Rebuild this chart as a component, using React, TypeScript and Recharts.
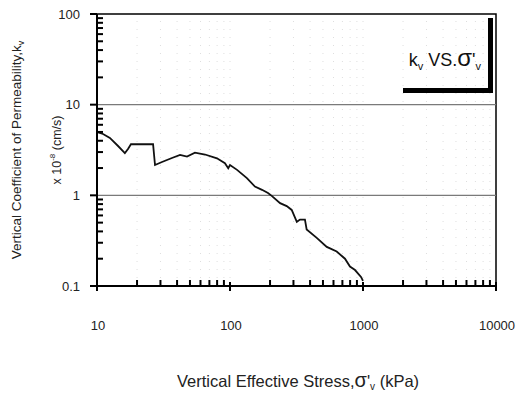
import React from 'react';
import { LineChart, Line, XAxis, YAxis, ReferenceLine, ReferenceArea } from 'recharts';

const stress = [10, 11.1, 12.5, 14.4, 16.2, 17.1, 18.0, 26.4, 27.3, 30.8, 36.6, 42.1, 47.5, 54.5, 64.9, 79.8, 91.6, 97, 100, 113, 134, 154, 174, 193, 207, 238, 267, 291, 318, 336, 366, 377, 449, 534, 565, 634, 732, 798, 871, 966, 1000];
const kv = [5.0, 4.75, 4.3, 3.5, 2.93, 3.25, 3.66, 3.66, 2.16, 2.33, 2.58, 2.79, 2.67, 2.96, 2.82, 2.56, 2.26, 1.99, 2.16, 1.91, 1.55, 1.25, 1.15, 1.06, 0.98, 0.82, 0.76, 0.69, 0.51, 0.54, 0.54, 0.42, 0.34, 0.27, 0.26, 0.24, 0.2, 0.164, 0.15, 0.126, 0.114];

const xMajor = [10, 100, 1000, 10000];
const xMinor = [20, 30, 40, 50, 60, 70, 80, 90, 200, 300, 400, 500, 600, 700, 800, 900, 2000, 3000, 4000, 5000, 6000, 7000, 8000, 9000];
const yMajor = [0.1, 1, 10, 100];
const yMinor = [0.2, 0.3, 0.4, 0.5, 0.6, 0.7, 0.8, 0.9, 2, 3, 4, 5, 6, 7, 8, 9, 20, 30, 40, 50, 60, 70, 80, 90];
const yGrid = [1, 10];

const data = stress.map((s, i) => ({ s, k: kv[i] }));
const FONT = '"Liberation Sans", Arial, sans-serif';

const isMajor = (v: number, list: number[]) => list.some((m) => Math.abs(m - v) < 1e-9);

const XTick = (props: any) => {
  const { x, y, payload } = props;
  const v = payload.value;
  if (isMajor(v, xMajor)) {
    return (
      <g>
        <line x1={x} x2={x} y1={y - 4} y2={y + 5} stroke="#000" strokeWidth={2} />
        <text x={x + 1} y={y + 44} textAnchor="middle" fontSize={13} fontFamily={FONT} fill="#222">{v}</text>
      </g>
    );
  }
  return <line x1={x} x2={x} y1={y} y2={y - 6} stroke="#000" strokeWidth={2} />;
};

const YTick = (props: any) => {
  const { x, y, payload } = props;
  const v = payload.value;
  if (isMajor(v, yMajor)) {
    return (
      <g>
        <line x1={x - 7} x2={x} y1={y} y2={y} stroke="#000" strokeWidth={2} />
        <text x={x - 17} y={y + 4.5} textAnchor="end" fontSize={13} fontFamily={FONT} fill="#222">{v}</text>
      </g>
    );
  }
  return <line x1={x} x2={x + 6} y1={y} y2={y} stroke="#000" strokeWidth={2} />;
};

const subStyle = (size: number, drop: number): React.CSSProperties => ({
  fontSize: size,
  position: 'relative',
  top: drop,
  verticalAlign: 'baseline',
  lineHeight: 0,
});

export default function App() {
  return (
    <div style={{ position: 'absolute', left: 0, top: 0, width: 517, height: 393, background: '#fff', fontFamily: FONT }}>
      <LineChart width={517} height={393} data={data} margin={{ top: 14, right: 21, bottom: 77, left: 67 }}>
        {xMinor.concat([100, 1000]).map((v) => (
          <ReferenceLine key={'vx' + v} x={v} stroke="#dedede" strokeDasharray="1 7" />
        ))}
        {yGrid.map((v) => (
          <ReferenceLine key={'gy' + v} y={v} stroke="#7a7a7a" strokeWidth={1.2} />
        ))}
        <ReferenceArea x1={10} x2={10000} y1={0.1} y2={100} fill="none" stroke="#000" strokeWidth={1.5} />
        <XAxis
          dataKey="s"
          type="number"
          scale="log"
          domain={[10, 10000]}
          ticks={xMajor.concat(xMinor).sort((a, b) => a - b)}
          interval={0}
          height={30}
          tickSize={0}
          tickMargin={0}
          tickLine={false}
          axisLine={{ stroke: '#000', strokeWidth: 2 }}
          tick={<XTick />}
          allowDataOverflow
        />
        <YAxis
          type="number"
          scale="log"
          domain={[0.1, 100]}
          ticks={yMajor.concat(yMinor).sort((a, b) => a - b)}
          interval={0}
          width={30}
          tickSize={0}
          tickMargin={0}
          tickLine={false}
          axisLine={{ stroke: '#000', strokeWidth: 2 }}
          tick={<YTick />}
          allowDataOverflow
        />
        <Line dataKey="k" type="linear" stroke="#111" strokeWidth={1.8} dot={false} isAnimationActive={false} />
      </LineChart>

      {/* legend box */}
      <div
        style={{
          position: 'absolute',
          left: 403,
          top: 18,
          width: 90,
          height: 75,
          borderRight: '5px solid #000',
          borderBottom: '5px solid #000',
          display: 'flex',
          alignItems: 'center',
          justifyContent: 'flex-end',
          paddingRight: 7,
          paddingTop: 10,
          boxSizing: 'border-box',
          fontSize: 18,
          color: '#111',
          whiteSpace: 'nowrap',
        }}
      >
        <span>
          k<span style={subStyle(11, 4)}>v</span> VS.<span style={{ fontSize: 24 }}>σ</span>'<span style={subStyle(11, 4)}>v</span>
        </span>
      </div>

      {/* x title */}
      <div
        style={{
          position: 'absolute',
          left: 298,
          top: 380,
          transform: 'translate(-50%, -50%)',
          fontSize: 16.5,
          lineHeight: '20px',
          color: '#222',
          whiteSpace: 'nowrap',
        }}
      >
        Vertical Effective Stress,<span style={{ fontSize: 20 }}>σ</span>'<span style={subStyle(10, 3)}>v</span> (kPa)
      </div>

      {/* y title line 1 */}
      <div
        style={{
          position: 'absolute',
          left: 16,
          top: 150,
          transform: 'translate(-50%, -50%) rotate(-90deg)',
          fontSize: 13.5,
          color: '#222',
          whiteSpace: 'nowrap',
        }}
      >
        Vertical Coefficient of Permeability,k<span style={subStyle(9, 3)}>v</span>
      </div>

      {/* y title line 2 */}
      <div
        style={{
          position: 'absolute',
          left: 56,
          top: 150,
          transform: 'translate(-50%, -50%) rotate(-90deg)',
          fontSize: 12.5,
          color: '#222',
          whiteSpace: 'nowrap',
        }}
      >
        x 10<sup style={{ fontSize: 8 }}>-8</sup> (cm/s)
      </div>
    </div>
  );
}
